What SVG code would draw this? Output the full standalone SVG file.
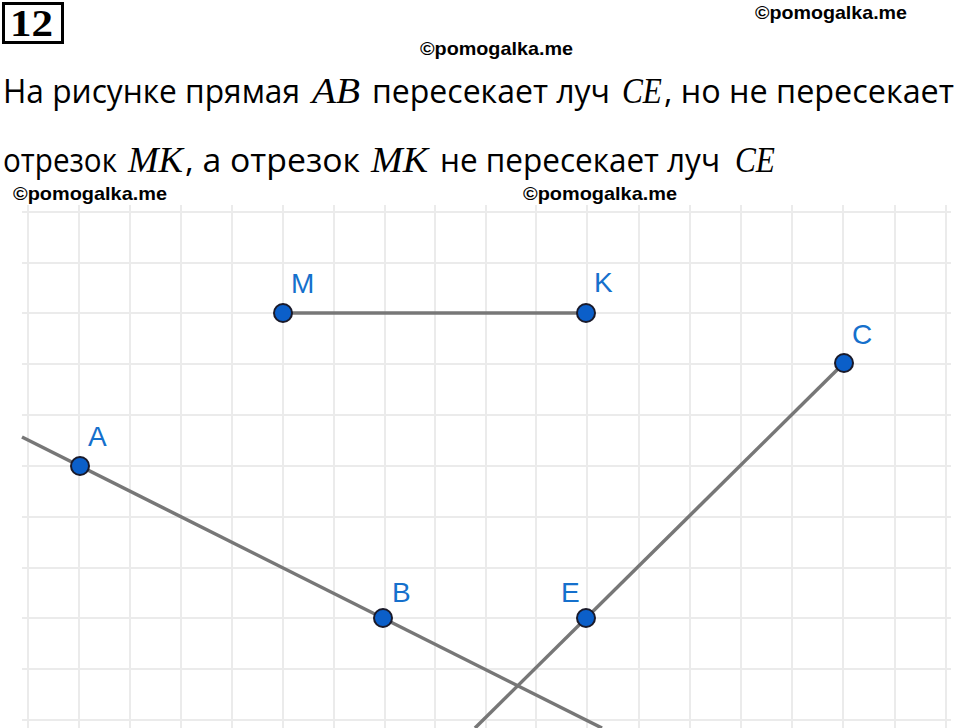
<svg xmlns="http://www.w3.org/2000/svg" width="960" height="728" viewBox="0 0 960 728">
<style>
.grid line{stroke:#ebebeb;stroke-width:2}
.wm{font-family:"Liberation Sans",Arial,sans-serif;font-weight:bold;font-size:19px;fill:#000}
.tx{font-family:"Open Sans","Noto Sans",sans-serif;font-size:33px;fill:#000}
.mi{font-family:"Liberation Serif","DejaVu Serif",serif;font-style:italic;font-size:35px;fill:#000}
.ln{stroke:#777;stroke-width:3.5;fill:none;stroke-linecap:butt}
.pt{fill:#0b5fc9;stroke:#1a1a2a;stroke-width:2}
.lb{font-family:"Liberation Sans",Arial,sans-serif;font-size:28px;fill:#1570cc}
</style>
<rect width="960" height="728" fill="#fff"/>
<g class="grid">
<line x1="28" y1="205" x2="28" y2="728"/><line x1="79" y1="205" x2="79" y2="728"/><line x1="130" y1="205" x2="130" y2="728"/><line x1="181" y1="205" x2="181" y2="728"/><line x1="232" y1="205" x2="232" y2="728"/><line x1="283" y1="205" x2="283" y2="728"/><line x1="334" y1="205" x2="334" y2="728"/><line x1="385" y1="205" x2="385" y2="728"/><line x1="435" y1="205" x2="435" y2="728"/><line x1="486" y1="205" x2="486" y2="728"/><line x1="536" y1="205" x2="536" y2="728"/><line x1="587" y1="205" x2="587" y2="728"/><line x1="639" y1="205" x2="639" y2="728"/><line x1="690" y1="205" x2="690" y2="728"/><line x1="741" y1="205" x2="741" y2="728"/><line x1="792" y1="205" x2="792" y2="728"/><line x1="843" y1="205" x2="843" y2="728"/><line x1="895" y1="205" x2="895" y2="728"/><line x1="946" y1="205" x2="946" y2="728"/>
<line x1="22" y1="212" x2="951" y2="212"/><line x1="22" y1="263" x2="951" y2="263"/><line x1="22" y1="313" x2="951" y2="313"/><line x1="22" y1="364" x2="951" y2="364"/><line x1="22" y1="415" x2="951" y2="415"/><line x1="22" y1="466" x2="951" y2="466"/><line x1="22" y1="517" x2="951" y2="517"/><line x1="22" y1="568" x2="951" y2="568"/><line x1="22" y1="618" x2="951" y2="618"/><line x1="22" y1="669" x2="951" y2="669"/><line x1="22" y1="720" x2="951" y2="720"/>
</g>
<g id="header">
<rect x="3.5" y="3.5" width="59" height="39" fill="none" stroke="#000" stroke-width="3"/>
<text x="10" y="36" font-family="Liberation Serif,serif" font-weight="bold" font-size="38" textLength="43" lengthAdjust="spacingAndGlyphs">12</text>
</g>
<g id="watermarks">
<text class="wm" x="755" y="19" textLength="152" lengthAdjust="spacingAndGlyphs">©pomogalka.me</text>
<text class="wm" x="420" y="55" textLength="153" lengthAdjust="spacingAndGlyphs">©pomogalka.me</text>
<text class="wm" x="13" y="200" textLength="154" lengthAdjust="spacingAndGlyphs">©pomogalka.me</text>
<text class="wm" x="523" y="200" textLength="154" lengthAdjust="spacingAndGlyphs">©pomogalka.me</text>
</g>
<g id="statement">
<text class="tx" x="3" y="103" textLength="297" lengthAdjust="spacingAndGlyphs">На рисунке прямая</text>
<text class="mi" x="312" y="103" textLength="48" lengthAdjust="spacingAndGlyphs">AB</text>
<text class="tx" x="372" y="103" textLength="238" lengthAdjust="spacingAndGlyphs">пересекает луч</text>
<text class="mi" x="622" y="103" textLength="40" lengthAdjust="spacingAndGlyphs">CE</text>
<text class="tx" x="664" y="103" textLength="290" lengthAdjust="spacingAndGlyphs">, но не пересекает</text>
<text class="tx" x="3" y="172" textLength="114" lengthAdjust="spacingAndGlyphs">отрезок</text>
<text class="mi" x="128" y="172" textLength="55" lengthAdjust="spacingAndGlyphs">MK</text>
<text class="tx" x="185" y="172" textLength="175" lengthAdjust="spacingAndGlyphs">, а отрезок</text>
<text class="mi" x="371" y="172" textLength="57" lengthAdjust="spacingAndGlyphs">MK</text>
<text class="tx" x="440" y="172" textLength="280" lengthAdjust="spacingAndGlyphs">не пересекает луч</text>
<text class="mi" x="735" y="172" textLength="40" lengthAdjust="spacingAndGlyphs">CE</text>
</g>
<g id="connectors">
<line class="ln" x1="283" y1="313" x2="586" y2="313"/>
<line class="ln" x1="22" y1="437" x2="602" y2="728"/>
<line class="ln" x1="844" y1="363" x2="475" y2="728"/>
</g>
<g id="M"><circle class="pt" cx="283" cy="313" r="9"/><text class="lb" x="291" y="293">M</text></g>
<g id="K"><circle class="pt" cx="586" cy="313" r="9"/><text class="lb" x="594" y="292">K</text></g>
<g id="C"><circle class="pt" cx="844" cy="363" r="9"/><text class="lb" x="852" y="344">C</text></g>
<g id="A"><circle class="pt" cx="80" cy="466" r="9"/><text class="lb" x="88" y="446">A</text></g>
<g id="B"><circle class="pt" cx="383" cy="618" r="9"/><text class="lb" x="392" y="602">B</text></g>
<g id="E"><circle class="pt" cx="586" cy="618" r="9"/><text class="lb" x="561" y="602">E</text></g>
</svg>
